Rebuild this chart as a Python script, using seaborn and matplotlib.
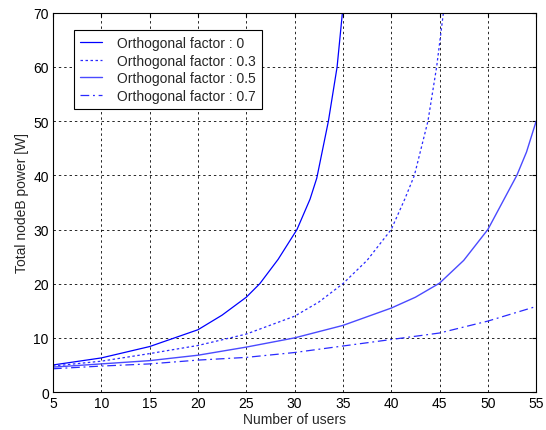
import matplotlib
matplotlib.use("Agg")
import matplotlib.pyplot as plt
import seaborn as sns

# curves
x_f0 = [5, 10, 15, 20, 22.5, 25, 26.4, 28.3, 30.25, 31.6, 32.3, 33.5, 34.4, 34.95]
y_f0 = [5.0, 6.3, 8.4, 11.5, 14.2, 17.5, 20, 24.5, 30, 35.6, 39.5, 50, 60, 70]

x_f03 = [5, 10, 15, 20, 25, 30, 32.5, 35, 37.5, 40, 41.4, 42.4, 43.8, 44.7, 45.4]
y_f03 = [4.8, 5.7, 7.1, 8.6, 10.7, 14.0, 16.6, 20, 24.3, 30, 35.6, 40, 50, 60, 70]

x_f05 = [5, 10, 15, 20, 25, 30, 35, 40, 42.5, 45, 47.5, 50, 51.5, 53, 54, 55]
y_f05 = [4.6, 5.2, 5.8, 6.8, 8.3, 10, 12.3, 15.5, 17.5, 20.1, 24.3, 30, 35, 40, 44.3, 50]

x_f07 = [5, 10, 15, 20, 25, 30, 35, 40, 45, 50, 55]
y_f07 = [4.3, 4.8, 5.2, 5.9, 6.4, 7.3, 8.5, 9.7, 10.9, 13.1, 15.8]

labels = ["Orthogonal factor : 0", "Orthogonal factor : 0.3",
          "Orthogonal factor : 0.5", "Orthogonal factor : 0.7"]
xticks = list(range(5, 56, 5))
yticks = list(range(0, 71, 10))

sns.set_style("white")
plt.rcParams["font.family"] = ["Liberation Sans", "DejaVu Sans"]
plt.rcParams["font.size"] = 10

fig = plt.figure(figsize=(5.46, 4.31), dpi=100)
ax = fig.add_axes([0.097, 0.088, 0.885, 0.88])

sns.lineplot(x=x_f0, y=y_f0, ax=ax, color="#0000ff", lw=0.9, label=labels[0])
sns.lineplot(x=x_f03, y=y_f03, ax=ax, color="#2a2aff", lw=0.9, ls=(0, (2, 2)), label=labels[1])
sns.lineplot(x=x_f05, y=y_f05, ax=ax, color="#4a4aff", lw=1.0, label=labels[2])
sns.lineplot(x=x_f07, y=y_f07, ax=ax, color="#2a2aff", lw=0.9, ls=(0, (7, 3, 1.5, 3)), label=labels[3])

ax.set_xlim(5, 55)
ax.set_ylim(0, 70)
ax.set_xticks(xticks)
ax.set_yticks(yticks)
ax.grid(True, color="black", ls=(0, (2.5, 3)), lw=0.7, alpha=0.85)
ax.tick_params(direction="in", top=True, right=True, length=3, labelsize=10, colors="black", pad=3)
for s in ax.spines.values():
    s.set_color("black")
    s.set_linewidth(0.8)

ax.set_xlabel("Number of users", fontsize=10, labelpad=1)
ax.set_ylabel("Total nodeB power [W]", fontsize=10, labelpad=3)

leg = ax.legend(loc="upper left", bbox_to_anchor=(0.043, 0.955), fontsize=10,
                frameon=True, fancybox=False, edgecolor="black", framealpha=1,
                borderaxespad=0, handlelength=1.6, handletextpad=1.1,
                labelspacing=0.25, borderpad=0.45)
leg.get_frame().set_linewidth(0.8)

fig.savefig("out.png", dpi=100)
